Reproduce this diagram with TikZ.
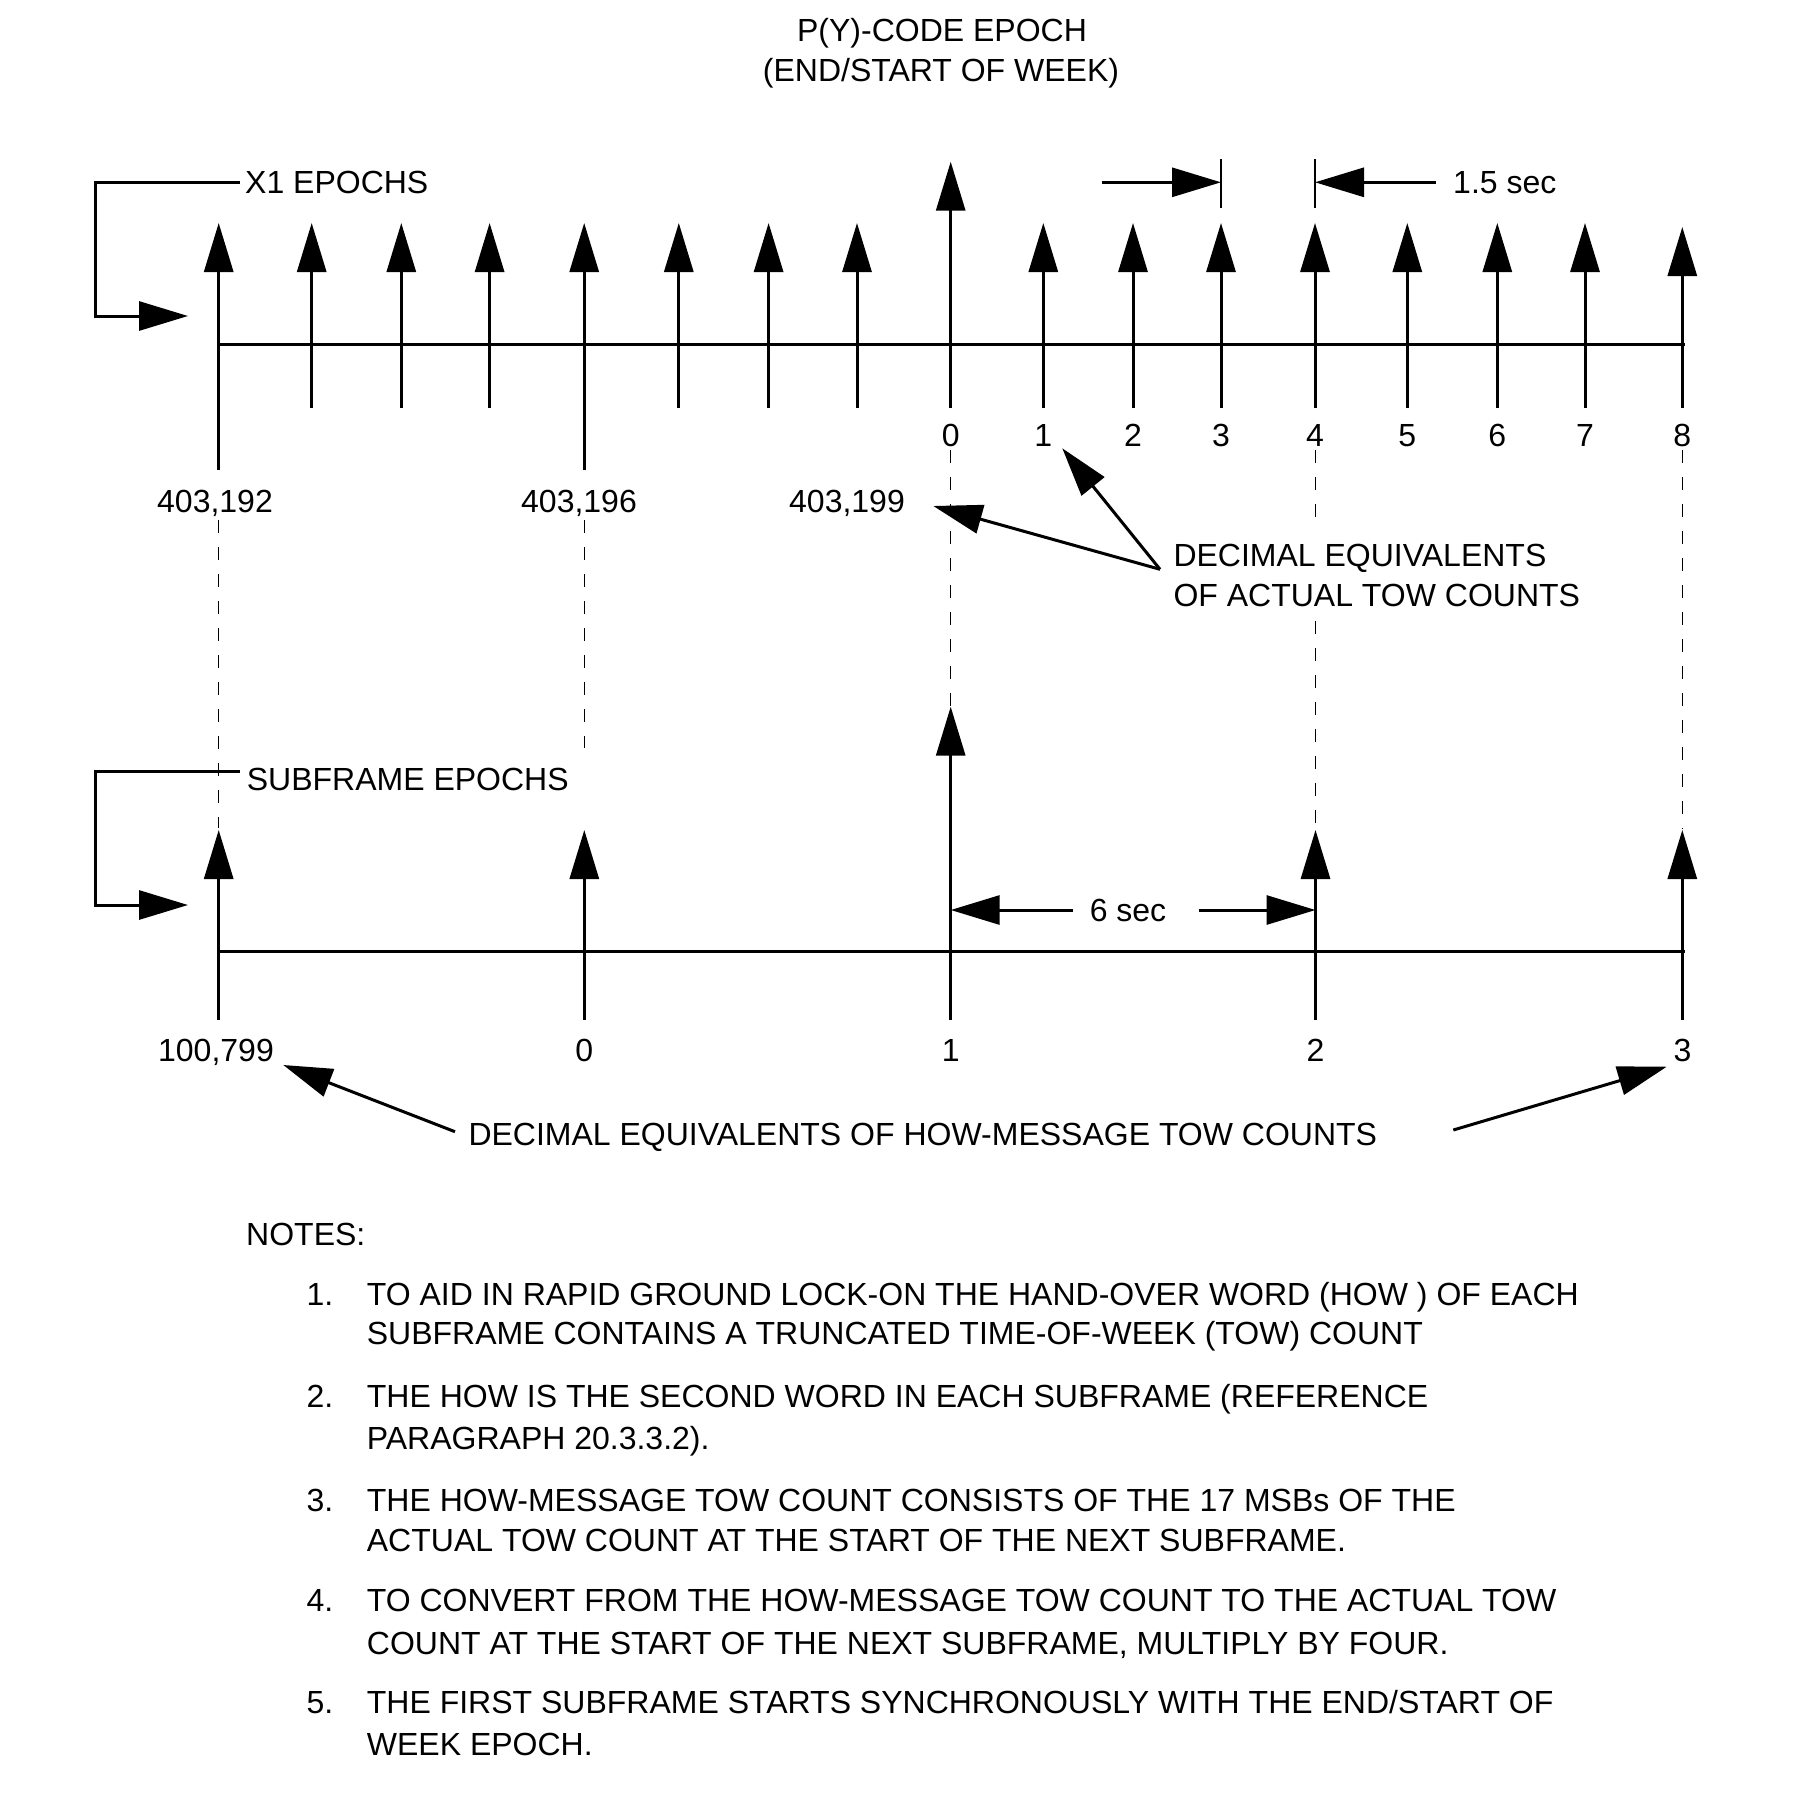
\documentclass[tikz,border=0pt]{standalone}
\usepackage{fontspec}
\setmainfont{Liberation Sans}
\usetikzlibrary{arrows.meta}
\begin{document}
\begin{tikzpicture}[x=1pt,y=-1pt,
  >={Triangle[length=49pt,width=29pt]},
  axis/.style={line width=3pt},
  tick/.style={line width=3pt,->},
  bar/.style={line width=2.8pt},
  pointer/.style={line width=3pt,->},
  guide/.style={line width=1.3pt,dash pattern=on 13pt off 14pt},
  lbl/.style={font=\fontsize{32}{38}\selectfont,inner sep=0pt},
  ]
\useasboundingbox (0,0) rectangle (1820,1800);

% ---------- title ----------
\node[lbl,anchor=base] (title1) at (942,41.3) {P(Y)-CODE EPOCH};
\node[lbl,anchor=base] (title2) at (941,81.6) {(END/START OF WEEK)};

% ---------- X1 epochs (top) ----------
\draw[axis] (218.7,344.3) -- (1685,344.3);
\foreach \x in {311.7,401.3,489.6,678.8,768.6,857,1043.3,1133,1221,1315,1407.3,1497.3,1585}
  \draw[tick] (\x,408) -- (\x,223);
\draw[tick] (218.7,470) -- (218.7,223);
\draw[tick] (584.2,470) -- (584.2,223);
\draw[tick] (950.7,408) -- (950.7,161.7);
\draw[tick] (1682.3,408) -- (1682.3,227);

\node[lbl,anchor=base west] (x1lab) at (245,193.3) {X1 EPOCHS};
\coordinate (x1s) at (240,182);
\coordinate (x1a) at (95,182);
\coordinate (x1b) at (95,316);
\coordinate (x1tip) at (188,316);
\draw[pointer] (x1s) -- (x1a) -- (x1b) -- (x1tip);

% 1.5 sec dimension
\draw[bar] (1221,159) -- (1221,208);
\draw[bar] (1315,159) -- (1315,208);
\coordinate (s15a) at (1101.7,182.3);
\coordinate (s15b) at (1221,182.3);
\coordinate (s15c) at (1436,182.3);
\coordinate (s15d) at (1315,182.3);
\node[lbl,anchor=base west] (sec15) at (1453,193.3) {1.5 sec};
\draw[pointer] (s15a) -- (s15b);
\draw[pointer] (s15c) -- (s15d);

% actual TOW counts
\foreach \x/\t [count=\i] in {950.7/0,1043.3/1,1133/2,1221/3,1315/4,1407.3/5,1497.3/6,1585/7,1682.3/8}
  \node[lbl,anchor=base] (tow\i) at (\x,446.7) {\t};
\node[lbl,anchor=base] (c192) at (215,512) {403,192};
\node[lbl,anchor=base] (c196) at (579,512) {403,196};
\node[lbl,anchor=base] (c199) at (847,512) {403,199};

\node[lbl,anchor=base west] (dec1a) at (1173.3,566) {DECIMAL EQUIVALENTS};
\node[lbl,anchor=base west] (dec1b) at (1173.3,606.7) {OF ACTUAL TOW COUNTS};
\coordinate (decA) at (1160,569.3);
\coordinate (p199) at (933.3,506);
\coordinate (p1) at (1062.3,448.3);
\draw[pointer] (decA) -- (p199);
\draw[pointer] (decA) -- (p1);

% ---------- guide lines ----------
\draw[guide] (218.7,520) -- (218.7,828);
\draw[guide] (584.3,520) -- (584.3,748);
\draw[guide] (950.7,450) -- (950.7,706);
\draw[guide] (1315.5,450) -- (1315.5,518);
\draw[guide] (1315.5,621) -- (1315.5,829);
\draw[guide] (1682.3,450) -- (1682.3,829);

% ---------- subframe epochs (bottom) ----------
\draw[axis] (218.7,951) -- (1685,951);
\foreach \x in {218.7,584.3,1315.5,1682.3}
  \draw[tick] (\x,1020) -- (\x,830);
\draw[tick] (950.7,1020) -- (950.7,706.7);

\node[lbl,anchor=base west] (sublab) at (246.7,790) {SUBFRAME EPOCHS};
\coordinate (sfs) at (240,771.7);
\coordinate (sfa) at (95,771.7);
\coordinate (sfb) at (95,905);
\coordinate (sftip) at (188,905);
\draw[pointer] (sfs) -- (sfa) -- (sfb) -- (sftip);

% 6 sec dimension
\node[lbl,anchor=base] (sec6) at (1128,921.7) {6 sec};
\coordinate (s6a) at (1073.3,910);
\coordinate (s6l) at (950.7,910);
\coordinate (s6b) at (1199,910);
\coordinate (s6r) at (1315.5,910);
\draw[pointer] (s6a) -- (s6l);
\draw[pointer] (s6b) -- (s6r);

% HOW counts
\node[lbl,anchor=base] (h0) at (216,1061) {100,799};
\node[lbl,anchor=base] (h1) at (584.3,1061) {0};
\node[lbl,anchor=base] (h2) at (950.7,1061) {1};
\node[lbl,anchor=base] (h3) at (1315.5,1061) {2};
\node[lbl,anchor=base] (h4) at (1682.5,1061) {3};

\node[lbl,anchor=base west] (dec2) at (468.3,1145) {DECIMAL EQUIVALENTS OF HOW-MESSAGE TOW COUNTS};
\coordinate (d2l) at (455,1131.7);
\coordinate (d2ltip) at (283.3,1065);
\coordinate (d2r) at (1453.3,1130);
\coordinate (d2rtip) at (1666.7,1066.7);
\draw[pointer] (d2l) -- (d2ltip);
\draw[pointer] (d2r) -- (d2rtip);

% ---------- notes ----------
\node[lbl,anchor=base west] (notes) at (246,1245) {NOTES:};
\foreach \n/\y [count=\i] in {1./1305,2./1407.5,3./1511.7,4./1611.5,5./1713.3}
  \node[lbl,anchor=base west] (num\i) at (306.5,\y) {\n};
\node[lbl,anchor=base west] (n1a) at (366.7,1305) {TO AID IN RAPID GROUND LOCK-ON THE HAND-OVER WORD (HOW ) OF EACH};
\node[lbl,anchor=base west] (n1b) at (366.7,1344) {SUBFRAME CONTAINS A TRUNCATED TIME-OF-WEEK (TOW) COUNT};
\node[lbl,anchor=base west] (n2a) at (366.7,1407.5) {THE HOW IS THE SECOND WORD IN EACH SUBFRAME (REFERENCE};
\node[lbl,anchor=base west] (n2b) at (366.7,1449) {PARAGRAPH 20.3.3.2).};
\node[lbl,anchor=base west] (n3a) at (366.7,1511.7) {THE HOW-MESSAGE TOW COUNT CONSISTS OF THE 17 MSBs OF THE};
\node[lbl,anchor=base west] (n3b) at (366.7,1551.7) {ACTUAL TOW COUNT AT THE START OF THE NEXT SUBFRAME.};
\node[lbl,anchor=base west] (n4a) at (366.7,1611.5) {TO CONVERT FROM THE HOW-MESSAGE TOW COUNT TO THE ACTUAL TOW};
\node[lbl,anchor=base west] (n4b) at (366.7,1654) {COUNT AT THE START OF THE NEXT SUBFRAME, MULTIPLY BY FOUR.};
\node[lbl,anchor=base west] (n5a) at (366.7,1713.3) {THE FIRST SUBFRAME STARTS SYNCHRONOUSLY WITH THE END/START OF};
\node[lbl,anchor=base west] (n5b) at (366.7,1755) {WEEK EPOCH.};
\end{tikzpicture}
\end{document}
